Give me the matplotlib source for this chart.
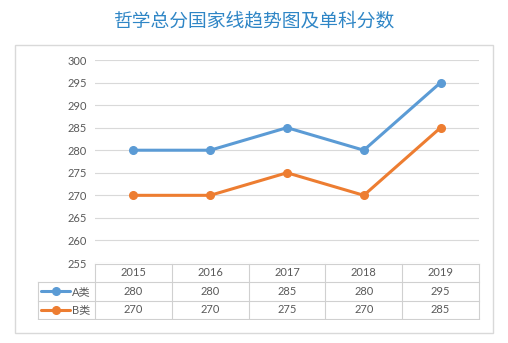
import matplotlib
matplotlib.use("Agg")
import matplotlib.pyplot as plt
from matplotlib.patches import Rectangle
from matplotlib.lines import Line2D

plt.rcParams['font.family'] = ['Lato', 'Noto Sans CJK SC', 'DejaVu Sans']

title = "哲学总分国家线趋势图及单科分数"
years = ["2015", "2016", "2017", "2018", "2019"]
series_names = ["A类", "B类"]
a_scores = [280, 280, 285, 280, 295]
b_scores = [270, 270, 275, 270, 285]
colors = ["#5b9bd5", "#ed7d31"]
yticks = [255, 260, 265, 270, 275, 280, 285, 290, 295, 300]

W, H = 508, 343
fig = plt.figure(figsize=(W / 100, H / 100), dpi=100)
fig.patch.set_facecolor("white")

def fr(x0, y0, x1, y1):
    # pixel box (top-left origin) -> figure fraction rect
    return [x0 / W, 1 - y1 / H, (x1 - x0) / W, (y1 - y0) / H]

# outer frame
fig.add_artist(Rectangle((15 / W, 1 - 333 / H), (493 - 15) / W, (333 - 45) / H,
                         transform=fig.transFigure, fill=False, ec="#d9d9d9", lw=1))

fig.text(0.5, 1 - 21 / H, title, ha="center", va="center", fontsize=13.5,
         color="#2f86c6", family=['Noto Sans CJK SC'], weight="medium")

ax = fig.add_axes(fr(95, 60, 479, 263))
x = list(range(len(years)))
for vals, c in zip([a_scores, b_scores], colors):
    ax.plot(x, vals, color=c, lw=2.2, marker="o", ms=5.5, solid_capstyle="round", zorder=3)
ax.set_xlim(-0.5, len(years) - 0.5)
ax.set_ylim(255, 300)
ax.set_yticks(yticks)
ax.set_xticks([])
ax.tick_params(axis="y", length=0, pad=6, labelsize=8, labelcolor="#595959")
ax.grid(axis="y", color="#d9d9d9", lw=0.8)
for s in ax.spines.values():
    s.set_visible(False)

# data table below the chart, in pixel coordinates
tax = fig.add_axes(fr(20, 263, 489, 320))
tax.set_xlim(20, 489)
tax.set_ylim(320, 263)
tax.axis("off")
gc = "#d0d0d0"
col_edges = [95 + i * 76.8 for i in range(len(years) + 1)]
row_edges = [263.5, 282, 300.5, 318.5]
tax.plot([col_edges[0], col_edges[-1]], [row_edges[0]] * 2, color=gc, lw=0.8)
for r in row_edges[1:]:
    tax.plot([37.5, col_edges[-1]], [r, r], color=gc, lw=0.8)
for cx in col_edges:
    tax.plot([cx, cx], [row_edges[0], row_edges[-1]], color=gc, lw=0.8)
tax.plot([37.5, 37.5], [row_edges[1], row_edges[-1]], color=gc, lw=0.8)

for i, yr in enumerate(years):
    cx = (col_edges[i] + col_edges[i + 1]) / 2
    tax.text(cx, (row_edges[0] + row_edges[1]) / 2, yr, ha="center", va="center",
             fontsize=8, color="#595959")
for j, (name, vals, c) in enumerate(zip(series_names, [a_scores, b_scores], colors)):
    cy = (row_edges[j + 1] + row_edges[j + 2]) / 2
    for i, v in enumerate(vals):
        cx = (col_edges[i] + col_edges[i + 1]) / 2
        tax.text(cx, cy, str(v), ha="center", va="center", fontsize=8, color="#595959")
    tax.plot([41, 70], [cy, cy], color=c, lw=2.2, solid_capstyle="round")
    tax.plot([55.5], [cy], color=c, marker="o", ms=5.5)
    tax.text(72, cy, name, ha="left", va="center", fontsize=8, color="#595959",
             family=['Lato', 'Noto Sans CJK SC'])

fig.savefig("out.png", dpi=100)
